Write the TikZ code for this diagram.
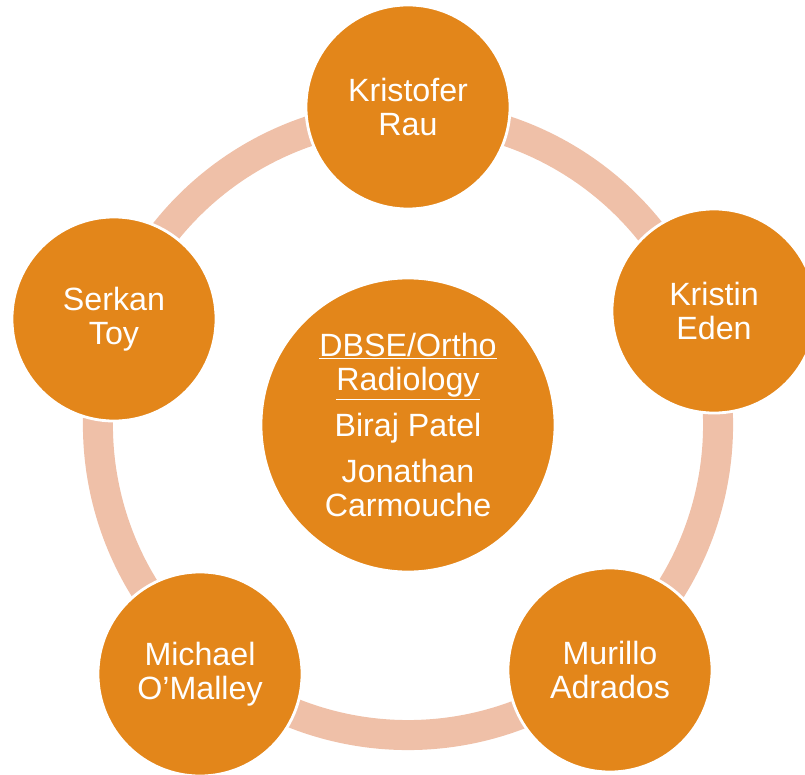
\documentclass[tikz,border=0pt]{standalone}
\usepackage{fontspec}
\setmainfont{Liberation Sans}
\usetikzlibrary{calc,backgrounds}
\definecolor{cycorange}{HTML}{E3861A}
\definecolor{cycpeach}{HTML}{EFC0A8}
\tikzset{pvert/.style={circle,fill=cycorange,draw=white,line width=2pt,minimum size=5.1cm,inner sep=0pt,text=white,align=center,font=\fontsize{22.9}{24.2}\selectfont}  }
\tikzset{hvert/.style={pvert,minimum size=7.35cm}  }
\tikzset{ringarc/.style={draw=cycpeach,line width=0.75cm}  }

\begin{document}
\begin{tikzpicture}[x=0.025cm,y=-0.025cm]
		\useasboundingbox (0,0) rectangle (805,775);
		\node[hvert] (hub) at (408,425) {\underline{DBSE/Ortho}\\ \underline{Radiology}\\[0.3cm] Biraj Patel\\[0.3cm] Jonathan\\ Carmouche};
			\node[pvert] (kr) at (408,107) {Kristofer\\ Rau};
			\node[pvert] (ke) at (714,311) {Kristin\\ Eden};
			\node[pvert] (ma) at (610,670) {Murillo\\ Adrados};
			\node[pvert] (mo) at (200,674) {Michael\\ O’Malley};
			\node[pvert] (st) at (114,319) {Serkan\\ Toy};

		\begin{scope}[on background layer]
			\foreach \a/\b in {kr/ke,ke/ma,ma/mo,mo/st,st/kr}
				\draw[ringarc] let \p1=($(\a)-(hub)$), \p2=($(\b)-(hub)$), \n1={atan2(\y1,\x1)}, \n2={\n1-mod(\n1-atan2(\y2,\x2)+360,360)} in
					($(hub)+(\n1:7.75cm)$) arc[start angle=\n1, end angle=\n2, radius=7.75cm];
		\end{scope}
	\end{tikzpicture}
\end{document}
